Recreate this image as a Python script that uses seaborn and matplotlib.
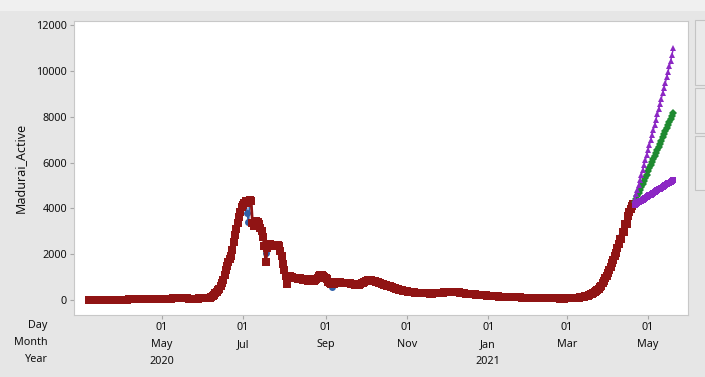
import numpy as np
import pandas as pd
import matplotlib
matplotlib.use('Agg')
import matplotlib.pyplot as plt
import matplotlib.dates as mdates
import seaborn as sns
from matplotlib.patches import Rectangle

# daily active cases, Madurai
mar20 = [0, 0, 0, 0, 0, 0, 0, 0, 0, 0, 0, 0, 0, 0, 0, 0, 0, 1, 1, 2, 3, 4, 5, 6, 8]  # from 7 Mar
apr20 = [10, 12, 15, 18, 20, 22, 25, 27, 28, 30, 30, 32, 33, 35, 35,
         36, 35, 34, 33, 32, 30, 30, 29, 28, 27, 27, 26, 26, 25, 25]
may20 = [30, 35, 40, 45, 50, 55, 60, 65, 70, 72, 75, 78, 80, 78, 76, 74,
         72, 70, 68, 66, 65, 64, 63, 62, 62, 63, 64, 65, 66, 68, 70]
jun20 = [75, 78, 82, 88, 95, 105, 130, 170, 230, 300, 370, 430, 500, 600, 720,
         880, 1080, 1300, 1480, 1650, 1780, 1900, 2200, 2550, 2850, 3100, 3350, 3600, 3850, 4050]
jul20 = [4150, 4250, 4300, 3800, 3400, 4350, 4300, 3350, 3250, 3350, 3450, 3400, 3300, 3150, 3000,
         2750, 2350, 2050, 2250, 2400, 2450, 2400, 2380, 2420, 2350, 2380, 2400, 2350, 2150, 1900, 1550]
aug20 = [1300, 1050, 800, 950, 1050, 1000, 1000, 950, 980, 950, 900, 920, 950, 900, 880, 900,
         920, 880, 850, 870, 900, 880, 850, 880, 920, 980, 1050, 1100, 1080, 1050, 1000]
sep20 = [950, 900, 800, 750, 700, 580, 700, 780, 800, 780, 760, 780, 760, 740, 750,
         730, 720, 740, 720, 700, 690, 680, 670, 660, 650, 660, 680, 720, 760, 800]
oct20 = [830, 850, 870, 870, 860, 850, 830, 810, 790, 770, 750, 730, 710, 690, 670, 650,
         630, 610, 590, 570, 550, 530, 510, 490, 470, 450, 430, 420, 410, 400, 390]
nov20 = [380, 370, 360, 350, 340, 330, 320, 315, 310, 305, 300, 300, 295, 290, 290,
         285, 285, 280, 280, 280, 285, 290, 295, 300, 300, 305, 310, 320, 330, 340]
dec20 = [345, 350, 355, 360, 360, 360, 355, 350, 340, 330, 320, 310, 300, 290, 280, 270,
         265, 260, 255, 250, 245, 240, 235, 230, 225, 220, 215, 210, 205, 200, 195]
jan21 = [190, 185, 180, 175, 170, 165, 160, 155, 150, 148, 145, 142, 140, 138, 135, 132,
         130, 128, 125, 122, 120, 118, 115, 112, 110, 108, 105, 102, 100, 98, 95]
feb21 = [92, 90, 88, 86, 84, 82, 80, 78, 76, 75, 74, 73, 72, 71,
         70, 70, 69, 68, 68, 67, 67, 66, 66, 65, 65, 65, 65, 66]
mar21 = [66, 67, 68, 70, 72, 75, 80, 85, 92, 100, 110, 120, 132, 145, 160, 175,
         195, 215, 240, 270, 300, 335, 380, 430, 480, 550, 630, 720, 820, 940, 1050]
apr21 = [1180, 1320, 1460, 1600, 1750, 1900, 2050, 2250, 2450, 2650,
         2800, 2950, 3100, 3300, 3480, 3650, 3820, 3980, 4100, 4200]  # to 20 Apr

# where the fitted values differ from the actual ones
fit_diff = {'2020-07-04': 4250, '2020-07-05': 4300, '2020-07-18': 1650,
            '2020-08-03': 700, '2020-09-06': 750,
            '2021-04-11': 2650, '2021-04-13': 2950, '2021-04-15': 3300}

# 30 day forecast from 21 Apr 2021
fc_upper = [4400, 4610, 4820, 5030, 5240, 5455, 5670, 5885, 6100, 6320, 6540, 6760, 6980, 7200, 7425,
            7650, 7875, 8100, 8330, 8560, 8790, 9020, 9250, 9480, 9715, 9950, 10190, 10440, 10700, 10980]
fc_mid = [4280, 4410, 4540, 4670, 4800, 4935, 5070, 5205, 5340, 5475, 5610, 5745, 5880, 6015, 6150,
          6285, 6420, 6555, 6690, 6825, 6960, 7095, 7230, 7365, 7500, 7635, 7770, 7900, 8030, 8160]
fc_lower = [4150, 4190, 4225, 4265, 4300, 4340, 4375, 4415, 4450, 4490, 4525, 4565, 4600, 4640, 4675,
            4715, 4750, 4790, 4825, 4865, 4900, 4940, 4975, 5015, 5050, 5090, 5125, 5165, 5200, 5240]

tick_dates = ['2020-05-01', '2020-07-01', '2020-09-01', '2020-11-01', '2021-01-01', '2021-03-01', '2021-05-01']
tick_labels = ['01\nMay\n2020', '01\nJul', '01\nSep', '01\nNov', '01\nJan\n2021', '01\nMar', '01\nMay']


def month_series(start, vals):
    return pd.Series(vals, index=pd.date_range(start, periods=len(vals), freq='D'))


months = [('2020-03-07', mar20), ('2020-04-01', apr20), ('2020-05-01', may20), ('2020-06-01', jun20),
          ('2020-07-01', jul20), ('2020-08-01', aug20), ('2020-09-01', sep20), ('2020-10-01', oct20),
          ('2020-11-01', nov20), ('2020-12-01', dec20), ('2021-01-01', jan21), ('2021-02-01', feb21),
          ('2021-03-01', mar21), ('2021-04-01', apr21)]
active = pd.concat([month_series(s, v) for s, v in months])
fits = active.copy()
for d, v in fit_diff.items():
    fits[pd.Timestamp(d)] = v
fc_dates = pd.date_range('2021-04-21', periods=len(fc_mid), freq='D')

sns.set_style('ticks')
plt.rcParams['font.family'] = ['Noto Sans', 'DejaVu Sans']

blue = '#2F5FA8'
red = '#901414'
purple = '#8C28C4'
green = '#1E8A30'

fig = plt.figure(figsize=(7.05, 3.77), dpi=100, facecolor='#E6E6E6')
fig.patches.append(Rectangle((0, 1 - 11 / 377), 1, 11 / 377, transform=fig.transFigure,
                             facecolor='#F0F0F0', edgecolor='none', zorder=-1))
for y0, y1 in [(20, 85), (88, 133), (136, 190)]:
    fig.patches.append(Rectangle((695 / 705, 1 - y1 / 377), 20 / 705, (y1 - y0) / 377,
                                 transform=fig.transFigure, facecolor='#EAEAEA',
                                 edgecolor='#C4C4C4', linewidth=0.8))

ax = fig.add_axes([74 / 705, 1 - 315 / 377, (688 - 74) / 705, (315 - 21) / 377])
ax.set_facecolor('white')

sns.lineplot(x=active.index, y=active.values, ax=ax, color=blue, marker='o',
             markersize=5, markeredgewidth=0, linewidth=1.2)
sns.lineplot(x=fits.index, y=fits.values, ax=ax, color=red, marker='s',
             markersize=5.3, markeredgewidth=0, linewidth=2.0)
sns.lineplot(x=fc_dates, y=fc_mid, ax=ax, color=green, marker='D',
             markersize=4, markeredgewidth=0, linewidth=1.5)
sns.lineplot(x=fc_dates, y=fc_upper, ax=ax, color=purple, marker='^',
             markersize=5, markeredgewidth=0, linewidth=1.0)
sns.lineplot(x=fc_dates, y=fc_lower, ax=ax, color=purple, marker='s',
             markersize=5, markeredgewidth=0, linewidth=2.0)

ax.set_xlim(pd.Timestamp('2020-02-25'), pd.Timestamp('2021-05-31'))
ax.set_ylim(-655, 12175)
ax.set_yticks(np.arange(0, 12001, 2000))
ax.set_xticks(mdates.date2num(pd.to_datetime(tick_dates)))
ax.set_xticklabels(tick_labels)
for t in ax.get_xticklabels():
    t.set_linespacing(1.75)
    t.set_verticalalignment('top')
ax.tick_params(axis='both', length=3, width=0.8, color='#A8A8A8', labelsize=7.8,
               pad=2, labelcolor='#111111', direction='out', bottom=True, left=True)
for s in ax.spines.values():
    s.set_color('#C8C8C8')
    s.set_linewidth(0.8)

ax.set_xlabel('')
ax.set_ylabel('Madurai_Active', fontsize=9, color='#111111', labelpad=7)
ax.annotate('Day\nMonth\nYear', xy=(0, 0), xycoords='axes fraction', xytext=(-19, -3.6),
            textcoords='offset points', ha='right', va='top', fontsize=7.8,
            linespacing=1.75, color='#111111')

fig.savefig('out.png', dpi=100, facecolor=fig.get_facecolor())
